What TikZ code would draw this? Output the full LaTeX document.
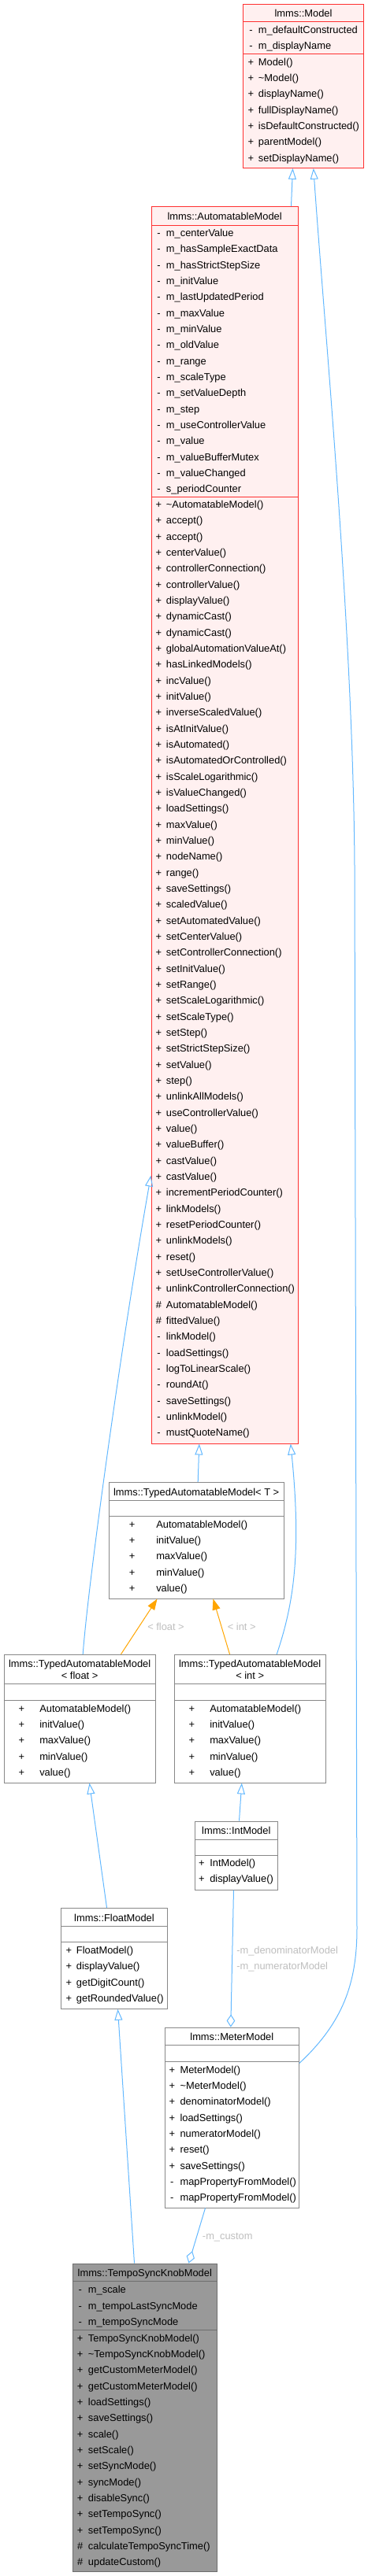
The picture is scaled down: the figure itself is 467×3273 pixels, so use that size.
\documentclass[tikz,border=0pt]{standalone}
\usepackage{fontspec}
\setmainfont{Liberation Sans}
\usetikzlibrary{arrows.meta, calc, fit}

\definecolor{edgeblue}{HTML}{63B8FF}
\definecolor{tmplorange}{HTML}{FFA500}
\definecolor{labelgrey}{HTML}{BEBEBE}
\definecolor{truncfill}{HTML}{FFF0F0}
\definecolor{truncline}{HTML}{FF3030}
\definecolor{boxline}{HTML}{888888}
\definecolor{selfill}{HTML}{999999}
\definecolor{selline}{HTML}{6E6E6E}

\newcommand{\rowh}{20.33}
% one row per member: symbol column and name column
\newcommand{\members}[5]{%
  \foreach \sym/\txt [count=\i from 0] in {#5}
    \node[member, anchor=center] (#1s\i) at (#2, #4+\i*\rowh) {\sym}
      node[member, anchor=west] (#1n\i) at (#3, #4+\i*\rowh) {\txt};
}

\begin{document}
\begin{tikzpicture}[x=0.75pt, y=-0.75pt,
  member/.style={font=\fontsize{9.65}{11}\selectfont, inner sep=0pt,
    text height=7pt, text depth=2pt},
  boxtitle/.style={member, anchor=center},
  umlbox/.style={draw=boxline, fill=white, line width=0.75pt, inner sep=0pt},
  truncbox/.style={umlbox, draw=truncline, fill=truncfill},
  selbox/.style={umlbox, draw=selline, fill=selfill},
  edgelabel/.style={member, text=labelgrey},
  inherit/.style={draw=edgeblue, line width=0.75pt,
    -{Triangle[open, length=10.5pt, width=7.5pt]}},
  tmpl/.style={draw=tmplorange, line width=0.75pt,
    -{Triangle[fill=tmplorange, length=10.5pt, width=7.5pt]}},
  aggr/.style={draw=edgeblue, line width=0.75pt,
    -{Diamond[open, length=12pt, width=8pt]}}]
  \useasboundingbox (0,0) rectangle (467,3273);

  % lmms::Model
  \node[truncbox, fit={(308.3,5) (461.7,213.3)}] (model) {};
  \draw[truncline, line width=0.75pt] ($(model.north west)+(0,23.3)$) -- ($(model.north east)+(0,23.3)$);
  \draw[truncline, line width=0.75pt] ($(model.north west)+(0,64)$) -- ($(model.north east)+(0,64)$);
  \node[boxtitle] (modelt) at ($(model.north)+(0,13.5)$) {lmms::Model};
  \members{mda}{318.4}{327.7}{39.3}{-/m\_defaultConstructed, -/m\_displayName}
  \members{mdm}{318.4}{327.7}{80}{+/Model(), +/\textasciitilde Model(), +/displayName(),
    +/fullDisplayName(), +/isDefaultConstructed(), +/parentModel(), +/setDisplayName()}

  % lmms::AutomatableModel
  \node[truncbox, fit={(192,262.5) (378.3,1834)}] (automatable) {};
  \draw[truncline, line width=0.75pt] ($(automatable.north west)+(0,24)$) -- ($(automatable.north east)+(0,24)$);
  \draw[truncline, line width=0.75pt] ($(automatable.north west)+(0,369.8)$) -- ($(automatable.north east)+(0,369.8)$);
  \node[boxtitle] (automatablet) at ($(automatable.north)+(0,14)$) {lmms::AutomatableModel};
  \members{ama}{201.5}{210.7}{297.3}{-/m\_centerValue, -/m\_hasSampleExactData,
    -/m\_hasStrictStepSize, -/m\_initValue, -/m\_lastUpdatedPeriod, -/m\_maxValue,
    -/m\_minValue, -/m\_oldValue, -/m\_range, -/m\_scaleType, -/m\_setValueDepth,
    -/m\_step, -/m\_useControllerValue, -/m\_value, -/m\_valueBufferMutex,
    -/m\_valueChanged, -/s\_periodCounter}
  \members{amm}{201.5}{210.7}{642.3}{+/\textasciitilde AutomatableModel(), +/accept(),
    +/accept(), +/centerValue(), +/controllerConnection(), +/controllerValue(),
    +/displayValue(), +/dynamicCast(), +/dynamicCast(), +/globalAutomationValueAt(),
    +/hasLinkedModels(), +/incValue(), +/initValue(), +/inverseScaledValue(),
    +/isAtInitValue(), +/isAutomated(), +/isAutomatedOrControlled(),
    +/isScaleLogarithmic(), +/isValueChanged(), +/loadSettings(), +/maxValue(),
    +/minValue(), +/nodeName(), +/range(), +/saveSettings(), +/scaledValue(),
    +/setAutomatedValue(), +/setCenterValue(), +/setControllerConnection(),
    +/setInitValue(), +/setRange(), +/setScaleLogarithmic(), +/setScaleType(),
    +/setStep(), +/setStrictStepSize(), +/setValue(), +/step(), +/unlinkAllModels(),
    +/useControllerValue(), +/value(), +/valueBuffer(), +/castValue(), +/castValue(),
    +/incrementPeriodCounter(), +/linkModels(), +/resetPeriodCounter(),
    +/unlinkModels(), +/reset(), +/setUseControllerValue(),
    +/unlinkControllerConnection(), \#/AutomatableModel(), \#/fittedValue(),
    -/linkModel(), -/loadSettings(), -/logToLinearScale(), -/roundAt(),
    -/saveSettings(), -/unlinkModel(), -/mustQuoteName()}

  % lmms::TypedAutomatableModel< T >
  \node[umlbox, fit={(138.3,1883.3) (360,2031)}] (typed) {};
  \draw[boxline, line width=0.75pt] ($(typed.north west)+(0,23.4)$) -- ($(typed.north east)+(0,23.4)$);
  \draw[boxline, line width=0.75pt] ($(typed.north west)+(0,43.4)$) -- ($(typed.north east)+(0,43.4)$);
  \node[boxtitle] (typedt) at ($(typed.north)+(0,14)$) {lmms::TypedAutomatableModel< T >};
  \members{tym}{167.7}{198}{1937.7}{+/AutomatableModel(), +/initValue(), +/maxValue(),
    +/minValue(), +/value()}

  % lmms::TypedAutomatableModel< float >
  \node[umlbox, fit={(5,2102.3) (197.3,2265)}] (typedfloat) {};
  \draw[boxline, line width=0.75pt] ($(typedfloat.north west)+(0,37.7)$) -- ($(typedfloat.north east)+(0,37.7)$);
  \draw[boxline, line width=0.75pt] ($(typedfloat.north west)+(0,58.4)$) -- ($(typedfloat.north east)+(0,58.4)$);
  \node[boxtitle] (typedfloatt) at ($(typedfloat.north)+(0,13)$) {lmms::TypedAutomatableModel};
  \node[boxtitle] (typedfloatu) at ($(typedfloat.north)+(0,28.7)$) {< float >};
  \members{tfm}{27.3}{50}{2171.7}{+/AutomatableModel(), +/initValue(), +/maxValue(),
    +/minValue(), +/value()}

  % lmms::TypedAutomatableModel< int >
  \node[umlbox, fit={(221,2102.3) (413.3,2265)}] (typedint) {};
  \draw[boxline, line width=0.75pt] ($(typedint.north west)+(0,37.7)$) -- ($(typedint.north east)+(0,37.7)$);
  \draw[boxline, line width=0.75pt] ($(typedint.north west)+(0,58.4)$) -- ($(typedint.north east)+(0,58.4)$);
  \node[boxtitle] (typedintt) at ($(typedint.north)+(0,13)$) {lmms::TypedAutomatableModel};
  \node[boxtitle] (typedintu) at ($(typedint.north)+(0,28.7)$) {< int >};
  \members{tim}{243.3}{266}{2171.7}{+/AutomatableModel(), +/initValue(), +/maxValue(),
    +/minValue(), +/value()}

  % lmms::IntModel
  \node[umlbox, fit={(247.3,2314) (352.3,2401)}] (intmodel) {};
  \draw[boxline, line width=0.75pt] ($(intmodel.north west)+(0,23.7)$) -- ($(intmodel.north east)+(0,23.7)$);
  \draw[boxline, line width=0.75pt] ($(intmodel.north west)+(0,43.7)$) -- ($(intmodel.north east)+(0,43.7)$);
  \node[boxtitle] (intmodelt) at ($(intmodel.north)+(0,13.7)$) {lmms::IntModel};
  \members{inm}{256}{266}{2368.3}{+/IntModel(), +/displayValue()}

  % lmms::FloatModel
  \node[umlbox, fit={(77.7,2424.3) (212.3,2552.3)}] (floatmodel) {};
  \draw[boxline, line width=0.75pt] ($(floatmodel.north west)+(0,24)$) -- ($(floatmodel.north east)+(0,24)$);
  \draw[boxline, line width=0.75pt] ($(floatmodel.north west)+(0,44)$) -- ($(floatmodel.north east)+(0,44)$);
  \node[boxtitle] (floatmodelt) at ($(floatmodel.north)+(0,14)$) {lmms::FloatModel};
  \members{flm}{87.3}{96.7}{2479.3}{+/FloatModel(), +/displayValue(), +/getDigitCount(),
    +/getRoundedValue()}

  % lmms::MeterModel
  \node[umlbox, fit={(209.3,2576) (379.3,2805)}] (meter) {};
  \draw[boxline, line width=0.75pt] ($(meter.north west)+(0,23)$) -- ($(meter.north east)+(0,23)$);
  \draw[boxline, line width=0.75pt] ($(meter.north west)+(0,44)$) -- ($(meter.north east)+(0,44)$);
  \node[boxtitle] (metert) at ($(meter.north)+(0,13.3)$) {lmms::MeterModel};
  \members{mem}{218.3}{228.3}{2630.7}{+/MeterModel(), +/\textasciitilde MeterModel(),
    +/denominatorModel(), +/loadSettings(), +/numeratorModel(), +/reset(),
    +/saveSettings(), -/mapPropertyFromModel(), -/mapPropertyFromModel()}

  % lmms::TempoSyncKnobModel
  \node[selbox, fit={(92.3,2876) (275.3,3267.7)}] (tempo) {};
  \draw[selline, line width=0.75pt] ($(tempo.north west)+(0,23.3)$) -- ($(tempo.north east)+(0,23.3)$);
  \draw[selline, line width=0.75pt] ($(tempo.north west)+(0,84.7)$) -- ($(tempo.north east)+(0,84.7)$);
  \node[boxtitle] (tempot) at ($(tempo.north)+(0,13.3)$) {lmms::TempoSyncKnobModel};
  \members{tsa}{101.7}{111.7}{2910.3}{-/m\_scale, -/m\_tempoLastSyncMode, -/m\_tempoSyncMode}
  \members{tsm}{101.7}{111.7}{2971.7}{+/TempoSyncKnobModel(), +/\textasciitilde TempoSyncKnobModel(),
    +/getCustomMeterModel(), +/getCustomMeterModel(), +/loadSettings(), +/saveSettings(),
    +/scale(), +/setScale(), +/setSyncMode(), +/syncMode(), +/disableSync(),
    +/setTempoSync(), +/setTempoSync(), \#/calculateTempoSyncTime(), \#/updateCustom()}

  % inheritance
  \draw[inherit] ($(automatable.north west)+(178,0)$) -- ($(model.south west)+(63.7,0)$);
  \draw[inherit] ($(meter.north east)+(0,46)$) .. controls (435,2570) and (453,2520) .. (453,2450)
    -- (450,1100) .. controls (448,800) and (412,420) .. ($(model.south west)+(90,0)$);
  \draw[inherit] ($(typed.north west)+(113.4,0)$) -- ($(automatable.south west)+(61.3,0)$);
  \draw[inherit] ($(typedint.north west)+(130.7,0)$) .. controls (372,2040) and (383,1975)
    .. ($(automatable.south west)+(177.3,0)$);
  \draw[inherit] ($(typedfloat.north west)+(100.7,0)$) .. controls (112,2010) and (155,1700)
    .. ($(automatable.north west)+(0,1231.5)$);
  \draw[inherit] ($(floatmodel.north west)+(58.3,0)$) -- ($(typedfloat.south west)+(109,0)$);
  \draw[inherit] ($(intmodel.north west)+(56.7,0)$) -- ($(typedint.south west)+(86.3,0)$);
  \draw[inherit] ($(tempo.north west)+(78.7,0)$) -- ($(floatmodel.south west)+(72.3,0)$);

  % template instances
  \draw[tmpl] ($(typedfloat.north west)+(149,0)$) -- ($(typed.south west)+(61.7,0)$);
  \draw[tmpl] ($(typedint.north west)+(71,0)$) -- ($(typed.south west)+(132.7,0)$);
  \node[edgelabel] (lblfloat) at (210.5,2068) {< float >};
  \node[edgelabel] (lblint) at (306.7,2068) {< int >};

  % members held by value
  \draw[aggr] ($(intmodel.south west)+(49.7,0)$) -- ($(meter.north west)+(84,0)$);
  \node[edgelabel, anchor=west] (lblden) at (300,2479.3) {-m\_denominatorModel};
  \node[edgelabel, anchor=west] (lblnum) at (300,2499.3) {-m\_numeratorModel};
  \draw[aggr] ($(meter.south west)+(51.7,0)$) -- ($(tempo.north west)+(147.7,0)$);
  \node[edgelabel, anchor=west] (lblcustom) at (256.7,2841.7) {-m\_custom};
\end{tikzpicture}
\end{document}
